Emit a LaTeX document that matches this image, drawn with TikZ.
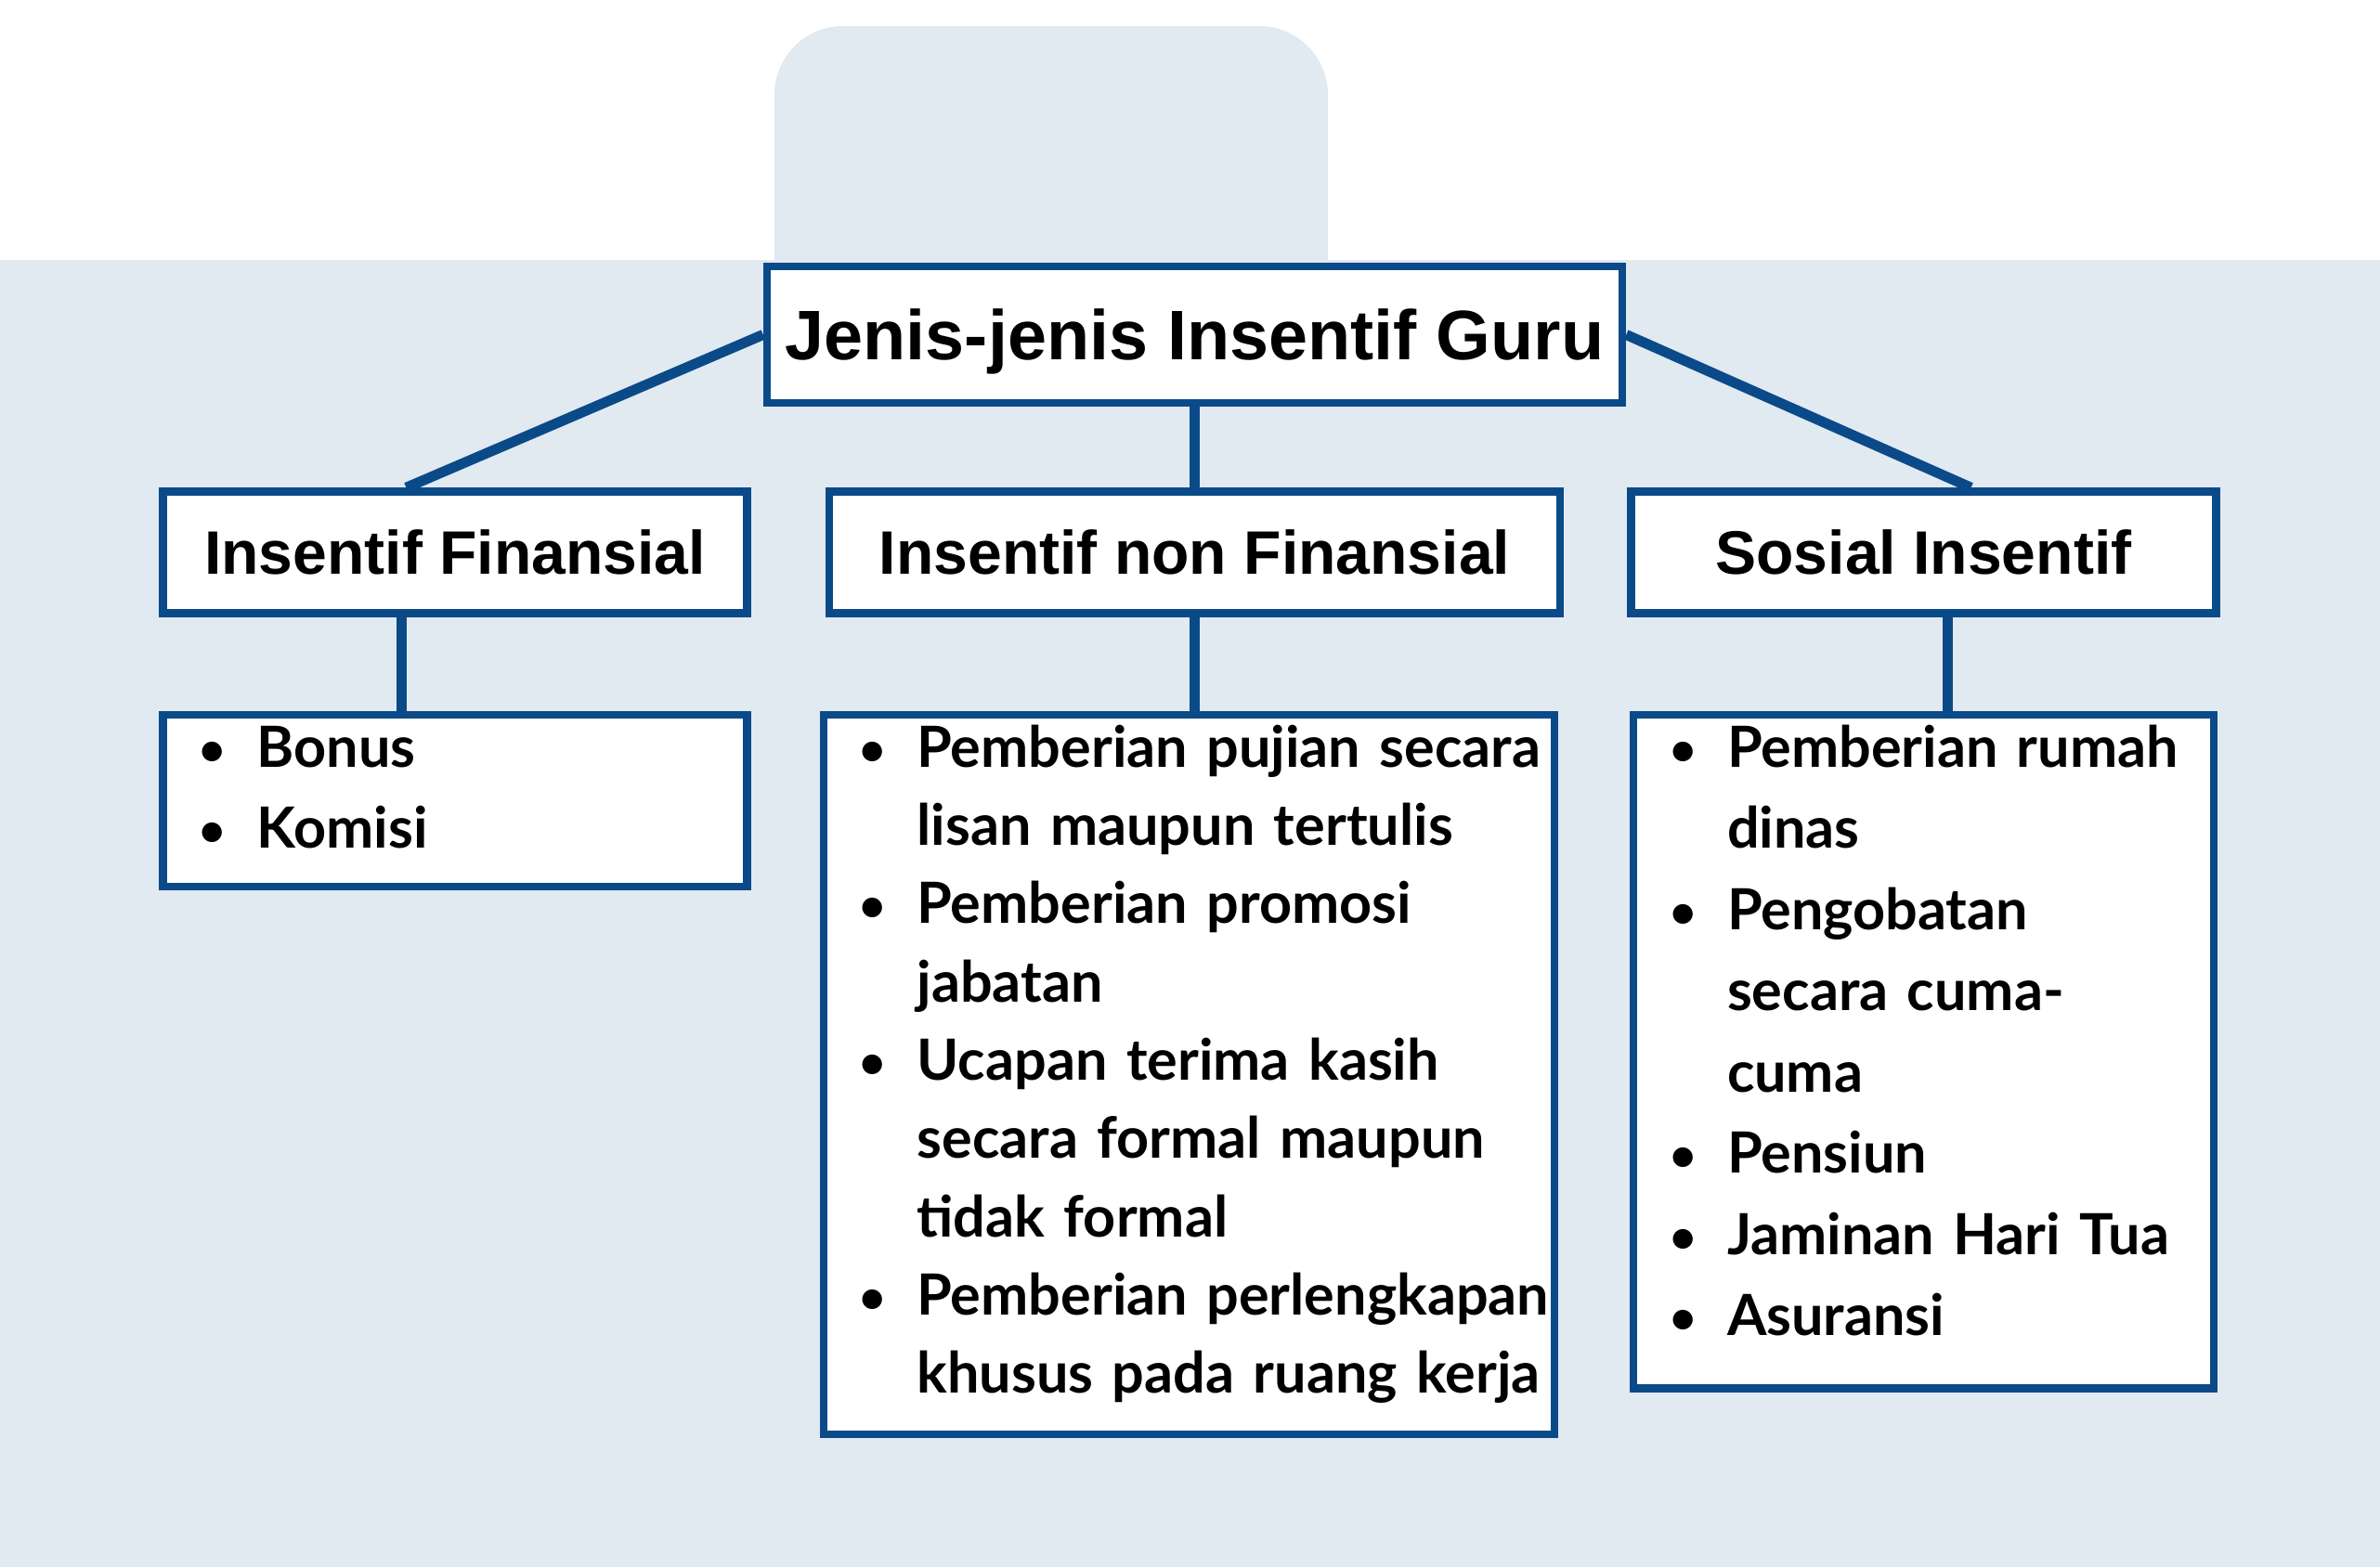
\documentclass[tikz,border=0pt]{standalone}
\usepackage{fontspec}
\setmainfont{Lato}
\newfontfamily\judulfont{Liberation Sans}
\usetikzlibrary{positioning}

\definecolor{birutua}{HTML}{0B4A88}
\definecolor{birumuda}{HTML}{E1E9F1}

% tanda butir, baris lanjutan, jarak atas dan bawah daftar
\newcommand\bul{\makebox[0.98cm][l]{\hspace{0.36cm}\raisebox{0.02cm}{\scalebox{0.8}{\textbullet}}}}
\newcommand\lanjut{\hspace*{0.98cm}}
\newcommand\atas{\rule{0pt}{0.56cm}}
\newcommand\bawah[1]{\rule[-#1]{0pt}{#1}}

\begin{document}
\begin{tikzpicture}[
  judul/.style={rectangle,draw=birutua,line width=0.085cm,fill=white,inner sep=0pt,minimum width=9.21cm,minimum height=1.47cm,font=\judulfont\bfseries\fontsize{21.5}{26}\selectfont,text height=0.54cm,text depth=0pt},
  kepala/.style={rectangle,draw=birutua,line width=0.085cm,fill=white,inner sep=0pt,minimum height=1.31cm,font=\judulfont\bfseries\fontsize{18.8}{22}\selectfont,text height=0.47cm,text depth=0pt},
  daftar/.style={rectangle,draw=birutua,line width=0.085cm,fill=white,inner sep=0pt,align=left,font=\bfseries\fontsize{17.4}{#1}\selectfont},
  garis/.style={draw=birutua,line width=0.11cm}
]
\useasboundingbox (0,0) rectangle (25.63,-16.88);
\fill[birumuda] (0,-2.80) rectangle (25.63,-16.88);
\fill[birumuda,rounded corners=0.74cm] (8.34,-4) rectangle (14.30,-0.28);

\node[judul] (jenis) at (12.865,-3.605) {Jenis-jenis Insentif Guru};
\node[kepala,minimum width=7.87cm,below=0.87cm of jenis] (nonfin) {Insentif non Finansial};
\node[kepala,minimum width=6.29cm,left=0.80cm of nonfin] (fin) {Insentif Finansial};
\node[kepala,minimum width=6.30cm,right=0.68cm of nonfin] (sosial) {Sosial Insentif};

\node[daftar=24.8pt,minimum width=6.29cm,text width=6.23cm,below=1.01cm of fin] (daftarfin) {%
  \atas\bul Bonus\\
  \bul Komisi\bawah{0.42cm}};
\node[daftar=24.0pt,minimum width=7.87cm,text width=7.82cm,below=1.01cm of nonfin,xshift=-0.06cm] (daftarnonfin) {%
  \atas\bul Pemberian pujian secara\\
  \lanjut lisan maupun tertulis\\
  \bul Pemberian promosi\\
  \lanjut jabatan\\
  \bul Ucapan terima kasih\\
  \lanjut secara formal maupun\\
  \lanjut tidak formal\\
  \bul Pemberian~perlengkapan\\
  \lanjut khusus pada ruang kerja\bawah{0.44cm}};
\node[daftar=24.9pt,minimum width=6.25cm,text width=6.19cm,below=1.01cm of sosial] (daftarsosial) {%
  \atas\bul Pemberian rumah\\
  \lanjut dinas\\
  \bul Pengobatan\\
  \lanjut secara cuma-\\
  \lanjut cuma\\
  \bul Pensiun\\
  \bul Jaminan Hari Tua\\
  \bul Asuransi\bawah{0.57cm}};

\draw[garis] (jenis.west) -- ([xshift=-0.525cm]fin.north);
\draw[garis] (jenis.east) -- ([xshift=0.51cm]sosial.north);
\draw[garis] (jenis.south) -- (nonfin.north);
\draw[garis] ([xshift=-0.575cm]fin.south) -- ([xshift=-0.575cm]daftarfin.north);
\draw[garis] (nonfin.south) -- (nonfin.south |- daftarnonfin.north);
\draw[garis] ([xshift=0.26cm]sosial.south) -- ([xshift=0.26cm]daftarsosial.north);
\end{tikzpicture}
\end{document}
